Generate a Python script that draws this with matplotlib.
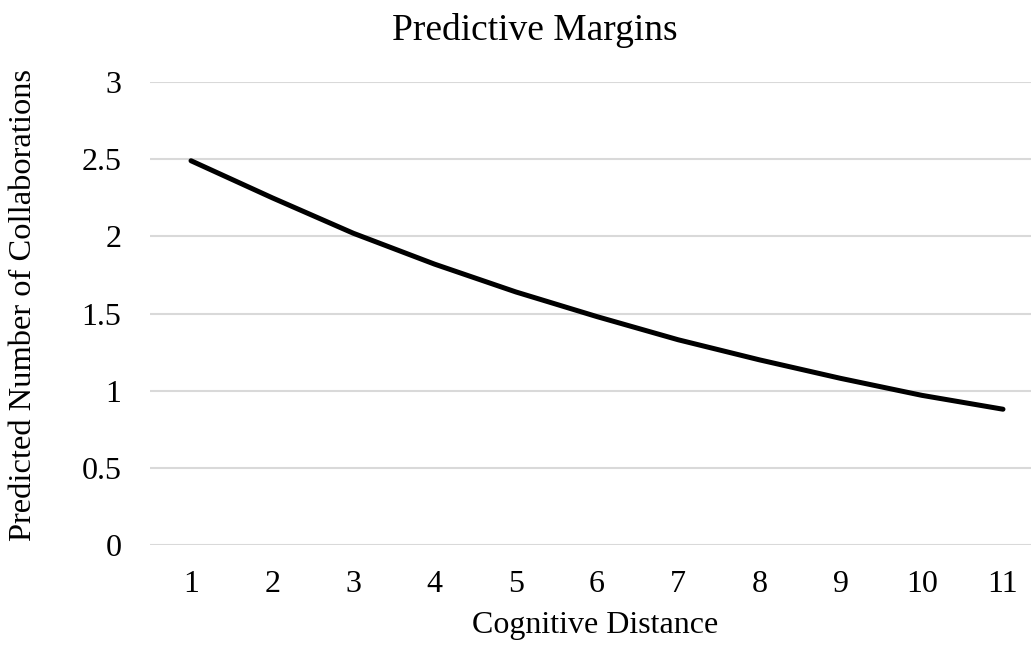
import matplotlib.pyplot as plt

# data
distance = ['1', '2', '3', '4', '5', '6', '7', '8', '9', '10', '11']
predicted = [2.49, 2.25, 2.02, 1.82, 1.64, 1.48, 1.33, 1.20, 1.08, 0.97, 0.88]
y_ticks = [0, 0.5, 1, 1.5, 2, 2.5, 3]
y_tick_labels = ['0', '0.5', '1', '1.5', '2', '2.5', '3']

plt.rcParams['font.family'] = ['Liberation Serif', 'DejaVu Serif']

fig = plt.figure(figsize=(10.31, 6.46), dpi=100)
ax = fig.add_axes([0.1459, 0.1563, 0.8663, 0.7167])

x = list(range(len(distance)))
ax.plot(x, predicted, color='black', linewidth=3.6, solid_capstyle='round')

ax.set_xlim(-0.5, len(distance) - 0.5)
ax.set_ylim(0, 3)
ax.set_xticks(x)
ax.set_xticklabels(distance)
ax.set_yticks(y_ticks)
ax.set_yticklabels(y_tick_labels)

ax.grid(True, axis='y', color='#d9d9d9', linewidth=1.5)
ax.set_axisbelow(True)
for s in ax.spines.values():
    s.set_visible(False)
ax.tick_params(axis='both', length=0, labelsize=23)
ax.tick_params(axis='x', pad=18)
ax.tick_params(axis='y', pad=21)

fig.text(0.519, 0.953, 'Predictive Margins', ha='center', va='center', fontsize=27)
fig.text(0.577, 0.031, 'Cognitive Distance', ha='center', va='center', fontsize=23)
fig.text(0.023, 0.528, 'Predicted Number of Collaborations', ha='center', va='center',
         rotation=90, fontsize=23.4)

fig.savefig('out.png', dpi=100)
